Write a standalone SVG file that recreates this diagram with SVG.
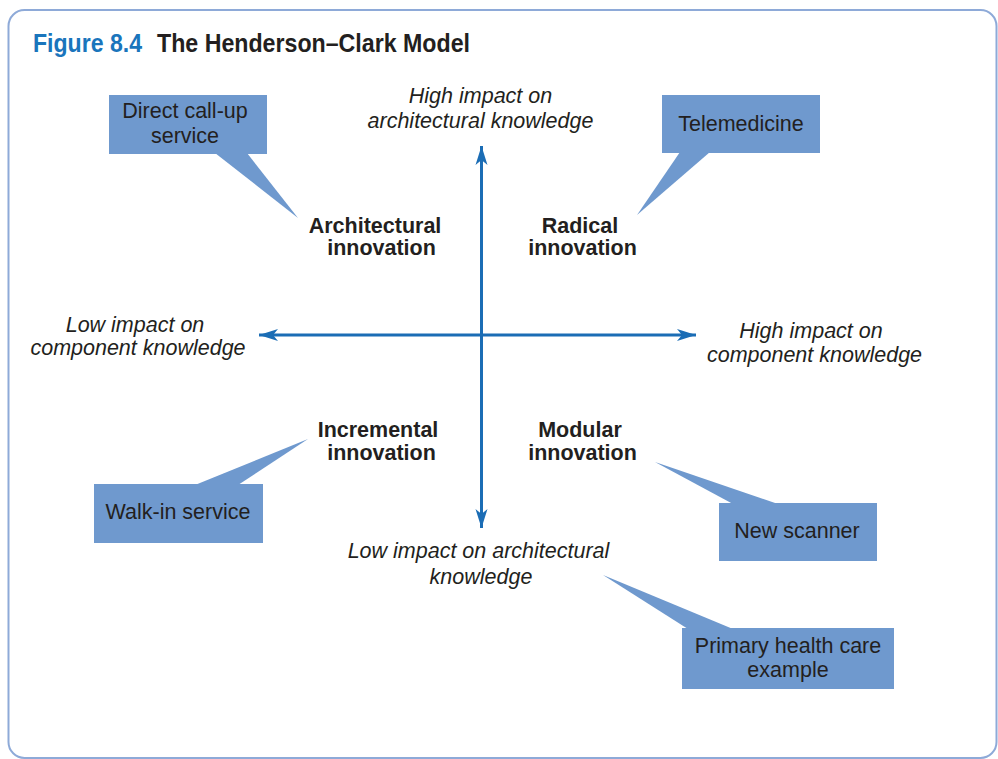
<svg xmlns="http://www.w3.org/2000/svg" width="998" height="759" viewBox="0 0 998 759">
<defs>
<style>
.frame{fill:#fff;stroke:#8eaad8;stroke-width:2}
.box{fill:#6f99ce}
.t{font-family:"Liberation Sans",Arial,sans-serif;font-size:21.5px;fill:#231f20;text-anchor:middle}
.b{font-weight:bold}
.i{font-style:italic}
.axis{stroke:#1b6db5;stroke-width:3;fill:none}
.title{font-family:"Liberation Sans",Arial,sans-serif;font-size:26px;font-weight:bold}
</style>
<marker id="ah" markerUnits="userSpaceOnUse" markerWidth="22" markerHeight="14" viewBox="-20 -7 22 14" refX="0" refY="0" orient="auto-start-reverse">
<path d="M0,0 L-19,-6 L-14,0 L-19,6 Z" fill="#1b6db5"/>
</marker>
</defs>
<rect class="frame" x="8.5" y="10" width="988" height="748" rx="16"/>
<g id="title">
<text class="title" x="33" y="52" fill="#1a75bc" textLength="109" lengthAdjust="spacingAndGlyphs">Figure 8.4</text>
<text class="title" x="157" y="52" fill="#231f20" textLength="313" lengthAdjust="spacingAndGlyphs">The Henderson–Clark Model</text>
</g>
<g id="connectors">
<line class="axis" x1="481.5" y1="528" x2="481.5" y2="146" marker-end="url(#ah)" marker-start="url(#ah)"/>
<line class="axis" x1="259" y1="335" x2="696" y2="335" marker-end="url(#ah)" marker-start="url(#ah)"/>
</g>
<g id="axis-top">
<text class="t i" x="480.5" y="103">High impact on</text>
<text class="t i" x="480.5" y="128">architectural knowledge</text>
</g>
<g id="axis-bottom">
<text class="t i" x="478.5" y="558">Low impact on architectural</text>
<text class="t i" x="481" y="584">knowledge</text>
</g>
<g id="axis-left">
<text class="t i" x="135" y="332">Low impact on</text>
<text class="t i" x="138" y="355">component knowledge</text>
</g>
<g id="axis-right">
<text class="t i" x="811" y="338">High impact on</text>
<text class="t i" x="814.5" y="362">component knowledge</text>
</g>
<g id="architectural">
<text class="t b" x="375" y="233">Architectural</text>
<text class="t b" x="381.5" y="255">innovation</text>
</g>
<g id="radical">
<text class="t b" x="580" y="233">Radical</text>
<text class="t b" x="582.5" y="255">innovation</text>
</g>
<g id="incremental">
<text class="t b" x="378" y="437">Incremental</text>
<text class="t b" x="381.5" y="460">innovation</text>
</g>
<g id="modular">
<text class="t b" x="580" y="437">Modular</text>
<text class="t b" x="582.5" y="460">innovation</text>
</g>
<g id="direct-call-up">
<polygon class="box" points="215,153 247,153 298,218"/>
<rect class="box" x="109" y="95" width="158" height="59"/>
<text class="t" x="185" y="118">Direct call-up</text>
<text class="t" x="185" y="143">service</text>
</g>
<g id="telemedicine">
<polygon class="box" points="680,152 710,152 637,215"/>
<rect class="box" x="662" y="95" width="158" height="58"/>
<text class="t" x="741" y="131">Telemedicine</text>
</g>
<g id="walk-in">
<polygon class="box" points="195,485 238,485 308,439"/>
<rect class="box" x="94" y="484" width="169" height="59"/>
<text class="t" x="178" y="519">Walk-in service</text>
</g>
<g id="new-scanner">
<polygon class="box" points="733,504 778,504 655,462"/>
<rect class="box" x="719" y="503" width="158" height="58"/>
<text class="t" x="797" y="538">New scanner</text>
</g>
<g id="primary">
<polygon class="box" points="688,629 733,629 603,575"/>
<rect class="box" x="682" y="628" width="212" height="61"/>
<text class="t" x="788" y="653">Primary health care</text>
<text class="t" x="788" y="677">example</text>
</g>
</svg>
